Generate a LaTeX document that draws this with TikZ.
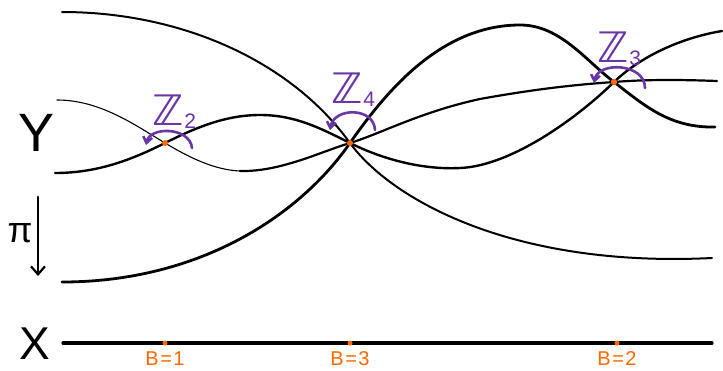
\documentclass[tikz,border=0pt]{standalone}
\usepackage{fontspec}
\setmainfont{Liberation Sans}
\newfontfamily\djv{DejaVu Sans}
\usetikzlibrary{arrows.meta}
\definecolor{hpurple}{RGB}{105,55,165}
\definecolor{horange}{RGB}{255,105,0}
\newcommand{\ZZlab}[1]{{\djv\fontsize{42}{42}\selectfont ℤ}\kern1pt\raisebox{-3pt}{\fontsize{21}{21}\selectfont #1}}
\begin{document}
\begin{tikzpicture}[x=1pt,y=-1pt,
  sheet/.style={line width=2.2pt,line cap=round,line join=round},
  thinsheet/.style={line width=1.1pt,line cap=round},
  zlab/.style={text=hpurple,inner sep=0pt,anchor=base west},
  sym/.style={hpurple,line width=2.6pt,line cap=round,-{Straight Barb[length=6pt,width=9pt]}},
  odot/.style={circle,fill=horange,inner sep=0pt,minimum size=5pt},
  olab/.style={text=horange,font=\fontsize{20}{20}\selectfont,inner sep=0pt},
  big/.style={inner sep=0pt}]
\useasboundingbox (0,0) rectangle (723,370);
\coordinate (p2) at (165,143);
\coordinate (p4) at (350,143);
\coordinate (p3) at (614,82);
% sheets
\draw[sheet,line width=2pt] (62,12) .. controls (180,12) and (290,60) .. (p4)
   .. controls (390,198) and (510,268) .. (712,258);
\draw[sheet,line width=2.8pt] (62,282) .. controls (200,282) and (300,215) .. (p4)
   .. controls (385,93) and (440,25) .. (520,25)
   .. controls (560,25) and (585,60) .. (p3)
   .. controls (645,106) and (670,128) .. (715,127);
\draw[sheet,line width=2.4pt] (55,173) .. controls (100,173) and (135,158) .. (p2)
   .. controls (195,128) and (225,115) .. (260,115)
   .. controls (295,115) and (320,128) .. (p4)
   .. controls (380,158) and (420,170) .. (460,168)
   .. controls (510,166) and (575,120) .. (p3)
   .. controls (640,57) and (680,38) .. (722,31);
\draw[thinsheet] (57,100) .. controls (100,100) and (135,125) .. (p2)
   .. controls (190,158) and (215,170) .. (240,171);
\draw[sheet] (240,171) .. controls (280,172) and (320,152) .. (p4)
   .. controls (380,134) and (420,112) .. (480,99)
   .. controls (530,90) and (570,85) .. (p3)
   .. controls (650,79) and (690,80) .. (717,81);
% ramification points
\fill[horange] (p2) circle (3);
\fill[horange] (p4) circle (3);
\fill[horange] (p3) circle (3.2);
% symmetry labels
\node[zlab] (z2) at (152,125) {\ZZlab{2}};
\node[zlab] (z4) at (331,103) {\ZZlab{4}};
\node[zlab] (z3) at (597,62) {\ZZlab{3}};
\draw[sym] (192,148) .. controls (190,127) and (150,126) .. (146,145);
\draw[sym] (375,130) .. controls (374,107) and (334,107) .. (330,130);
\draw[sym] (645,88) .. controls (645,63) and (598,61) .. (594,83);
% labels Y, pi, X
\node[big,font=\fontsize{54}{54}\selectfont] (Y) at (37,133) {Y};
\node[big,font=\fontsize{36}{36}\selectfont] (pi) at (20,233) {π};
\node[big,font=\fontsize{46}{46}\selectfont] (X) at (35,344) {X};
\coordinate (pitop) at (38,197);
\coordinate (pibot) at (38,276);
\draw[line width=2.2pt,line cap=round,-{Straight Barb[length=8pt,width=14pt]}] (pitop) -- (pibot);
% base X
\coordinate (xl) at (63,343);
\coordinate (xr) at (712,343);
\draw[line width=3.2pt,line cap=round] (xl) -- (xr);
\node[odot] (b1) at (165,343) {};
\node[odot] (b3) at (350,343) {};
\node[odot] (b2) at (617,343) {};
\node[olab] (l1) at (165,359) {B\kern1.5pt=\kern1.5pt1};
\node[olab] (l3) at (350,359) {B\kern1.5pt=\kern1.5pt3};
\node[olab] (l2) at (617,359) {B\kern1.5pt=\kern1.5pt2};
\end{tikzpicture}
\end{document}
